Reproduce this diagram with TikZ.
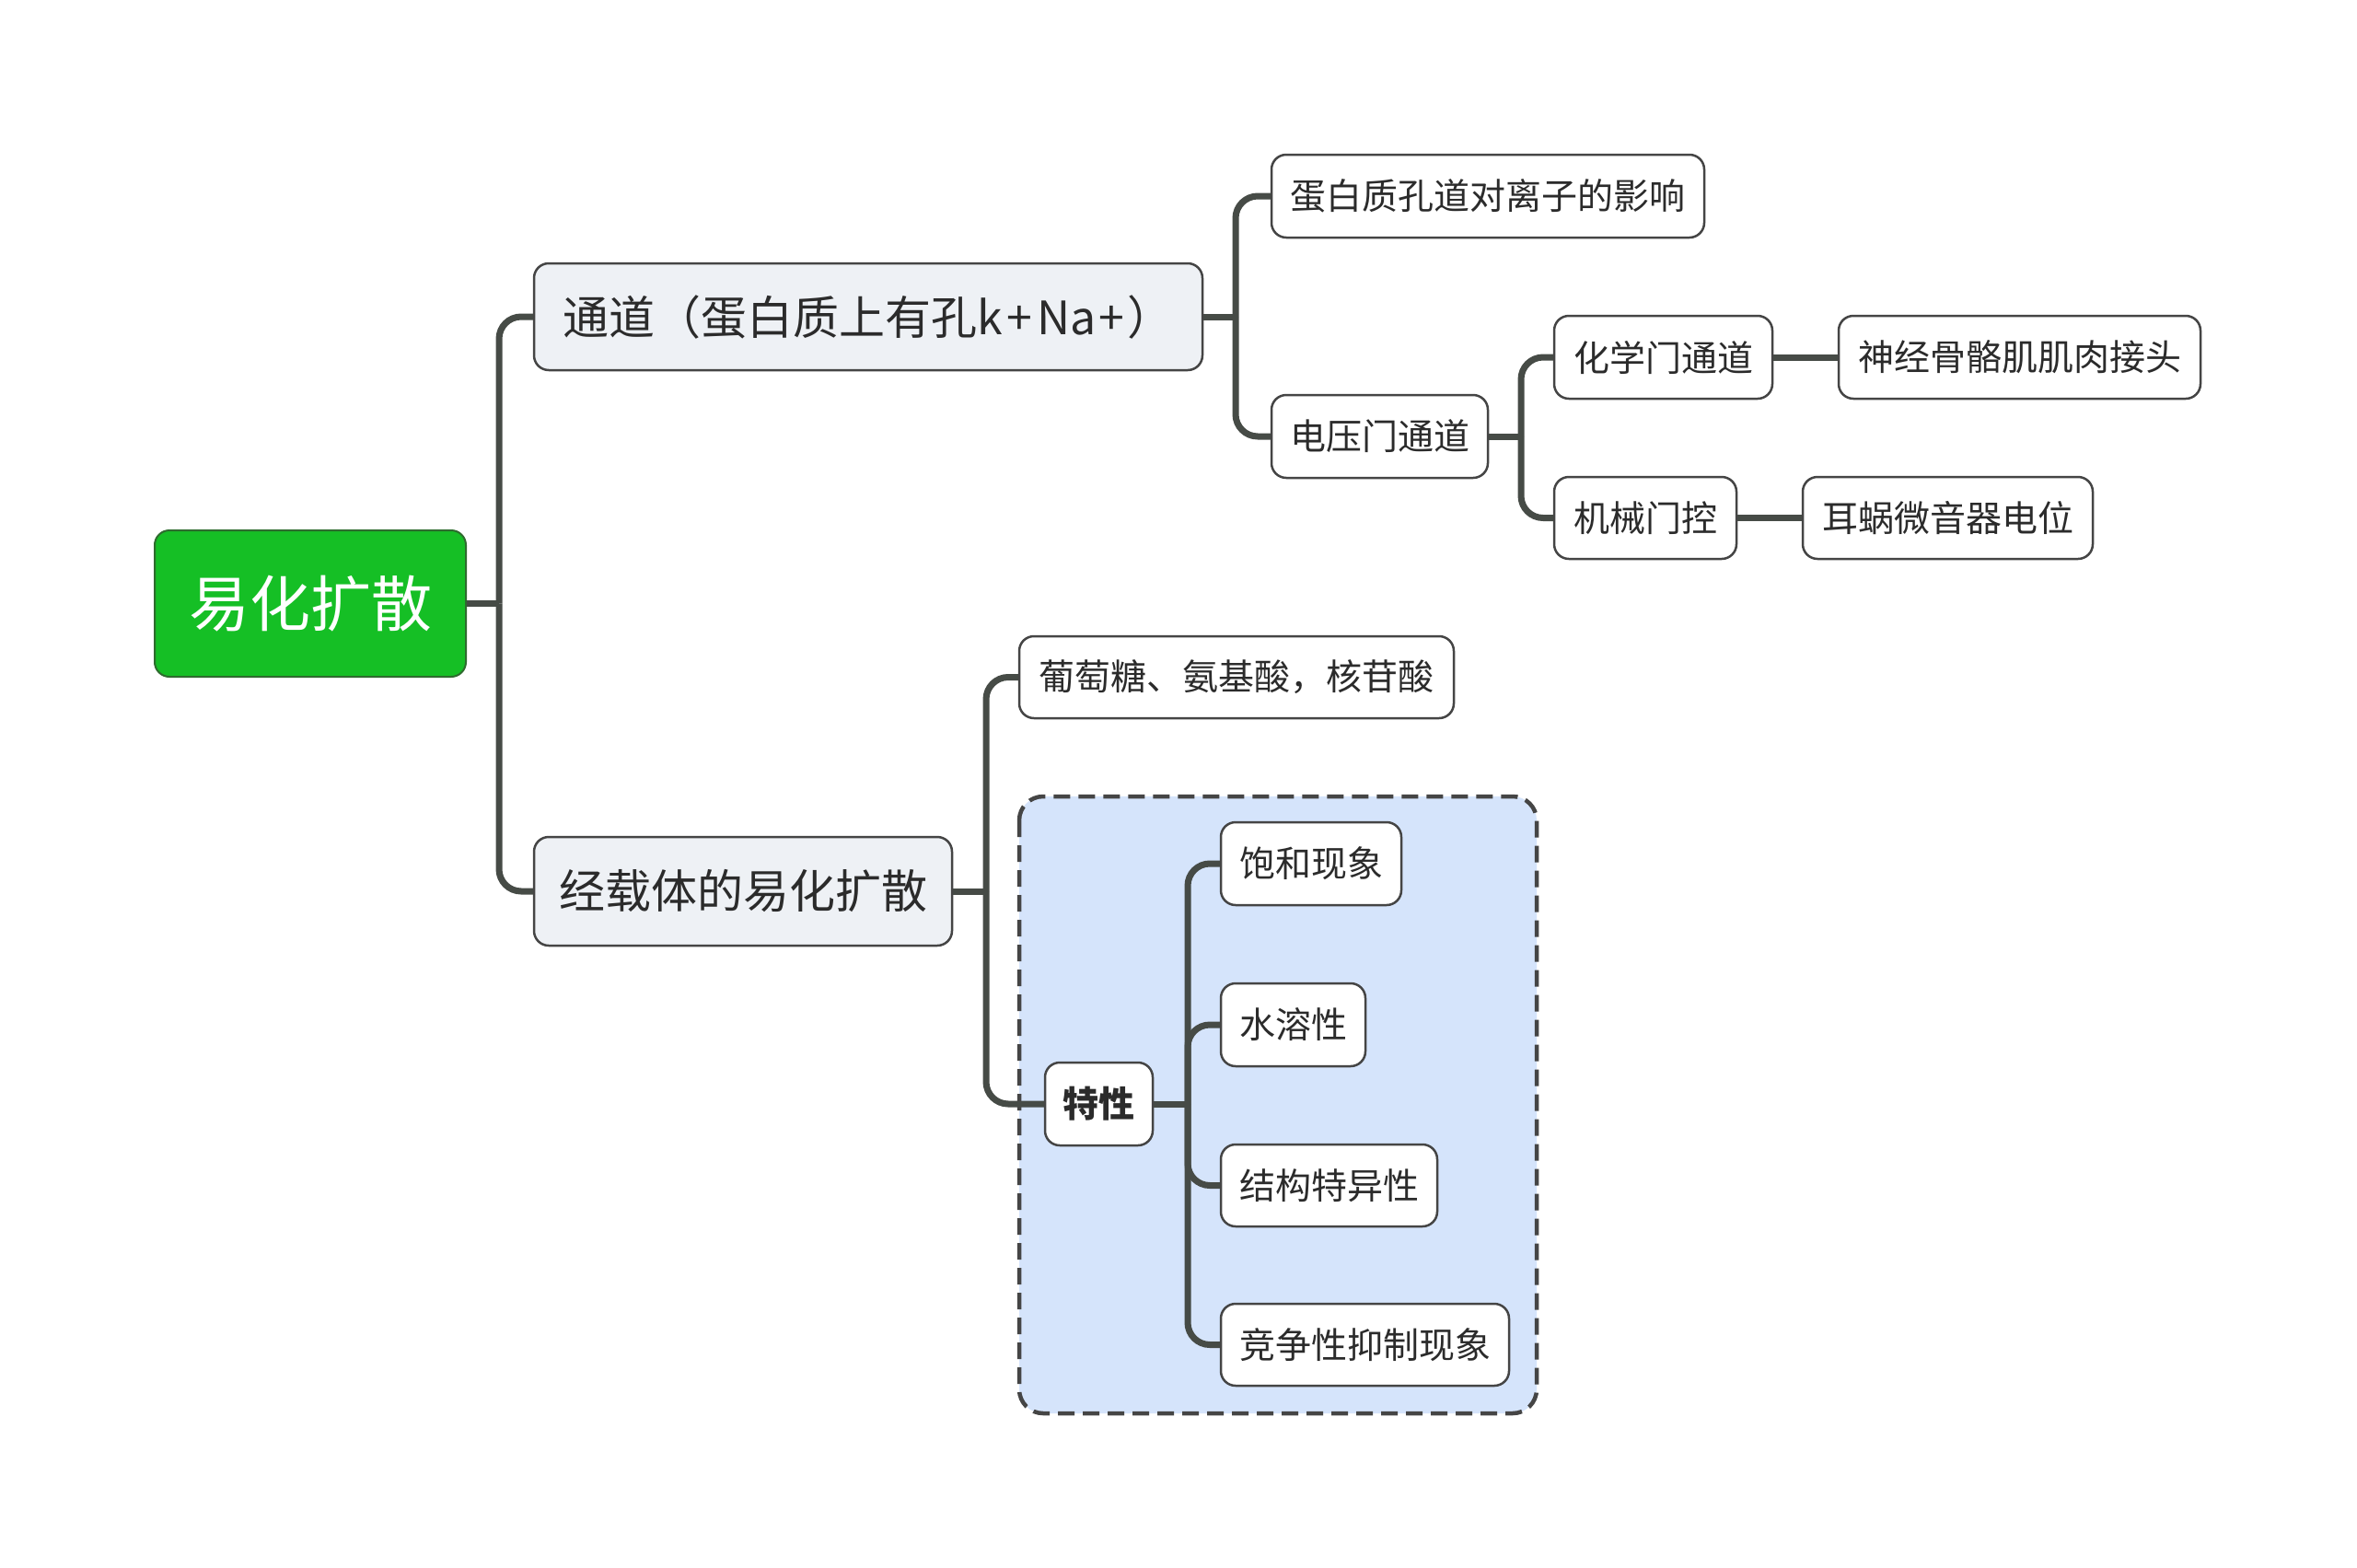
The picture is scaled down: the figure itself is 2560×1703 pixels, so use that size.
\documentclass[tikz,border=0pt]{standalone}
\usepackage{fontspec}
\setmainfont{Noto Sans CJK SC}
\definecolor{rootgreen}{HTML}{15BF25}
\definecolor{rootborder}{HTML}{2E6B2E}
\definecolor{lvlone}{HTML}{EEF1F5}
\definecolor{groupfill}{HTML}{D5E4FB}
\definecolor{conncol}{HTML}{464B46}
\definecolor{bordercol}{HTML}{454545}
\definecolor{textcol}{HTML}{2B2B2B}
\tikzset{
  basebox/.style={draw=bordercol, line width=2.5pt, rounded corners=16pt, text=textcol, inner sep=0pt, anchor=center},
  leafbox/.style={basebox, fill=white, font=\fontsize{39}{46}\selectfont},
  mainbox/.style={basebox, fill=lvlone, font=\fontsize{50}{60}\selectfont},
  rootbox/.style={basebox, draw=rootborder, line width=2pt, fill=rootgreen, text=white, font=\fontsize{66}{78}\selectfont},
  conn/.style={draw=conncol, line width=7pt, rounded corners=24pt},
  stub/.style={draw=conncol, line width=7pt},
  groupbox/.style={draw=bordercol, line width=4.5pt, dash pattern=on 18pt off 9pt, fill=groupfill, rounded corners=26pt}
}
\begin{document}
\begin{tikzpicture}[x=1pt,y=-1pt]
\useasboundingbox (0,0) rectangle (2560,1703);
\fill[white] (0,0) rectangle (2560,1703);
% group region
\draw[groupbox] (1107,865) rectangle (1669,1535);
% spine coordinates
\coordinate (s0) at (542,0);
\coordinate (s1) at (1342,0);
\coordinate (s2) at (1652,0);
\coordinate (s3) at (1071,0);
\coordinate (s4) at (1290,0);
% nodes
\node[rootbox, minimum width=338pt, minimum height=159pt] (root) at (337,655.5) {易化扩散};
\node[mainbox, minimum width=726pt, minimum height=116pt] (chan) at (943,344) {通道（蛋白质上有孔k\kern5pt+\kern5pt Na\kern3pt+\kern3pt）};
\node[mainbox, minimum width=454pt, minimum height=118pt] (carr) at (807,968) {经载体的易化扩散};
\node[leafbox, minimum width=470pt, minimum height=90pt] (pore) at (1616,213) {蛋白质孔道对离子的影响};
\node[leafbox, minimum width=235pt, minimum height=90pt] (volt) at (1498.5,474) {电压门通道};
\node[leafbox, minimum width=237pt, minimum height=90pt] (chem) at (1806.5,388) {化学门通道};
\node[leafbox, minimum width=393pt, minimum height=90pt] (nerve) at (2193.5,388) {神经骨骼肌肌肉接头};
\node[leafbox, minimum width=198pt, minimum height=89pt] (mech) at (1787,562.5) {机械门控};
\node[leafbox, minimum width=315pt, minimum height=89pt] (ear) at (2115.5,562.5) {耳蜗微音器电位};
\node[leafbox, minimum width=472pt, minimum height=89pt] (gluc) at (1343,735.5) {葡萄糖、氨基酸，核苷酸};
\node[leafbox, minimum width=117pt, minimum height=90pt, font=\fontsize{39}{46}\selectfont\bfseries] (prop) at (1193.5,1199) {特性};
\node[leafbox, minimum width=196pt, minimum height=90pt] (sat) at (1424,938) {饱和现象};
\node[leafbox, minimum width=157pt, minimum height=90pt] (sol) at (1404.5,1113) {水溶性};
\node[leafbox, minimum width=235pt, minimum height=89pt] (spec) at (1443.5,1287.5) {结构特异性};
\node[leafbox, minimum width=313pt, minimum height=89pt] (comp) at (1482.5,1460.5) {竞争性抑制现象};
% connectors
\draw[stub] (root.east) -- (root.east -| s0);
\draw[conn] (root.east -| s0) -- (s0 |- chan.west) -- (chan.west);
\draw[conn] (root.east -| s0) -- (s0 |- carr.west) -- (carr.west);
\draw[stub] (chan.east) -- (chan.east -| s1);
\draw[conn] (chan.east -| s1) -- (s1 |- pore.west) -- (pore.west);
\draw[conn] (chan.east -| s1) -- (s1 |- volt.west) -- (volt.west);
\draw[stub] (volt.east) -- (volt.east -| s2);
\draw[conn] (volt.east -| s2) -- (s2 |- chem.west) -- (chem.west);
\draw[conn] (volt.east -| s2) -- (s2 |- mech.west) -- (mech.west);
\draw[stub] (chem.east) -- (nerve.west);
\draw[stub] (mech.east) -- (ear.west);
\draw[stub] (carr.east) -- (carr.east -| s3);
\draw[conn] (carr.east -| s3) -- (s3 |- gluc.west) -- (gluc.west);
\draw[conn] (carr.east -| s3) -- (s3 |- prop.west) -- (prop.west);
\draw[stub] (prop.east) -- (prop.east -| s4);
\draw[conn] (prop.east -| s4) -- (s4 |- sat.west) -- (sat.west);
\draw[conn] (prop.east -| s4) -- (s4 |- sol.west) -- (sol.west);
\draw[conn] (prop.east -| s4) -- (s4 |- spec.west) -- (spec.west);
\draw[conn] (prop.east -| s4) -- (s4 |- comp.west) -- (comp.west);
\end{tikzpicture}
\end{document}
